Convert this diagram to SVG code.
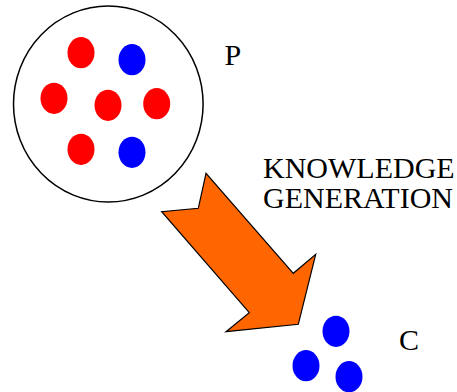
<svg xmlns="http://www.w3.org/2000/svg" width="457" height="392" viewBox="0 0 457 392">
  <style>
    .lbl { font-family: "Liberation Serif", "Times New Roman", serif; font-size: 30px; fill: #000; }
    .red { fill: #ff0000; }
    .blue { fill: #0000ff; }
  </style>
  <rect width="457" height="392" fill="#fff"/>

  <!-- population P -->
  <g id="population">
    <ellipse cx="108.3" cy="104" rx="94.8" ry="98" fill="#fff" stroke="#000" stroke-width="1.5"/>
    <ellipse class="red" cx="81" cy="52.7" rx="13.5" ry="15.6"/>
    <ellipse class="blue" cx="132" cy="59.7" rx="13.5" ry="15.6"/>
    <ellipse class="red" cx="54" cy="98.3" rx="13.5" ry="15.6"/>
    <ellipse class="red" cx="108" cy="105.3" rx="13.5" ry="15.6"/>
    <ellipse class="red" cx="156.7" cy="103.7" rx="13.5" ry="15.6"/>
    <ellipse class="red" cx="81" cy="149.3" rx="13.5" ry="15.6"/>
    <ellipse class="blue" cx="132" cy="152.3" rx="13.5" ry="15.6"/>
  </g>
  <g id="label-p">
    <text class="lbl" x="224.5" y="65">P</text>
  </g>

  <!-- result C -->
  <g id="result">
    <ellipse class="blue" cx="336" cy="331.3" rx="13.5" ry="15.6"/>
    <ellipse class="blue" cx="306" cy="365.7" rx="13.5" ry="15.6"/>
    <ellipse class="blue" cx="349" cy="376.7" rx="13.5" ry="15.6"/>
  </g>
  <g id="label-c">
    <text class="lbl" x="399" y="350">C</text>
  </g>

  <!-- block arrow -->
  <g id="connectors">
    <polygon points="206,173.3 198.3,208.3 161.7,211.7 249.3,312.7 226,331.7 298.3,324.3 315.7,254.3 293.3,273.3" fill="#ff6600" stroke="#000" stroke-width="1.2" stroke-linejoin="miter"/>
  </g>
  <g id="label-arrow">
    <text class="lbl" x="263" y="178">KNOWLEDGE</text>
    <text class="lbl" x="263" y="208">GENERATION</text>
  </g>
</svg>
